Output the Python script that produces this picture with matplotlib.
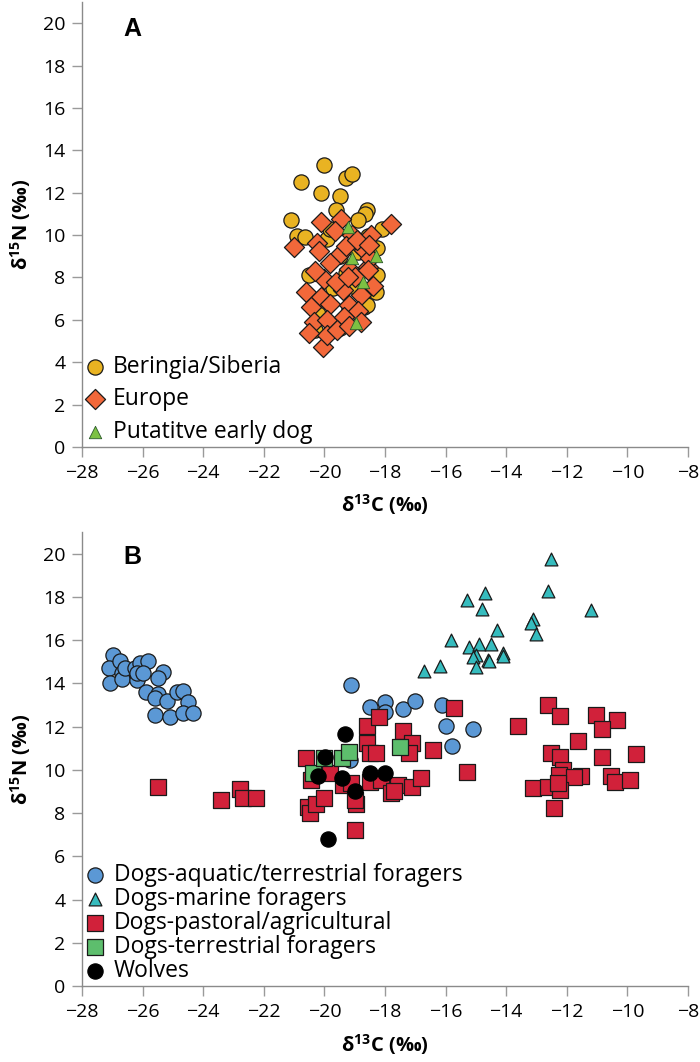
import matplotlib
matplotlib.use("Agg")
import matplotlib.pyplot as plt

plt.rcParams['font.family'] = ['Open Sans', 'DejaVu Sans']
plt.rcParams['mathtext.fontset'] = 'custom'
plt.rcParams['mathtext.rm'] = 'Open Sans:bold'
plt.rcParams['mathtext.default'] = 'rm'

# ---------------- Panel A data ----------------
ber_x = [-20.0, -20.76, -19.3, -19.1, -20.1, -19.5, -19.6, -18.6, -18.65, -21.1,
         -18.9, -18.1, -20.9, -20.65, -19.9, -18.55, -18.25, -20.5, -18.25, -18.3,
         -19.5, -19.7, -19.2, -20.2, -18.7, -19.8, -18.9, -19.3, -20.3, -19.5,
         -19.1, -18.6]
ber_y = [13.3, 12.5, 12.7, 12.9, 12.0, 11.85, 11.2, 11.2, 11.0, 10.7,
         10.7, 10.3, 9.95, 9.9, 9.8, 9.95, 9.4, 8.1, 8.1, 7.3,
         9.0, 7.5, 6.5, 6.3, 6.6, 10.3, 9.2, 8.2, 5.5, 5.6,
         7.6, 6.7]

eur_x = [-20.12, -19.46, -17.8, -21.0, -20.23, -20.17, -19.5, -18.9, -19.1, -19.3,
         -18.7, -18.57, -19.2, -19.8, -20.0, -20.6, -20.12, -19.4, -18.8, -19.0,
         -20.45, -19.8, -19.2, -18.9, -20.35, -19.9, -19.35, -18.8, -20.06, -19.9,
         -19.57, -19.2, -20.5, -18.5, -18.45, -19.65, -20.3, -19.6, -18.4, -18.93,
         -18.53, -19.23, -18.57]
eur_y = [10.63, 10.74, 10.52, 9.42, 9.64, 9.26, 9.1, 9.6, 10.0, 9.5,
         9.3, 8.5, 8.4, 8.7, 7.95, 7.3, 7.1, 7.4, 7.17, 8.0,
         6.6, 6.77, 6.7, 6.4, 5.9, 6.0, 6.14, 5.9, 4.72, 5.28,
         5.5, 5.7, 5.4, 8.9, 10.0, 10.2, 8.3, 7.8, 7.6, 9.77,
         9.53, 8.03, 8.35]

early_x = [-19.21, -19.09, -18.29, -18.72, -18.96]
early_y = [10.4, 8.93, 9.0, 7.77, 5.86]

# ---------------- Panel B data ----------------
aq_x = [-26.99, -27.1, -27.09, -26.76, -26.68, -26.68, -26.57, -26.24, -26.08, -25.81,
        -26.19, -26.19, -25.97, -25.31, -25.5, -25.89, -25.5, -25.59, -25.18, -24.87,
        -24.67, -24.49, -25.59, -25.09, -24.67, -24.35,
        -19.11, -18.51, -18.01, -18.01, -17.41, -17.0, -16.11, -16.0, -15.1, -15.8,
        -19.16]
aq_y = [15.33, 14.72, 14.02, 15.04, 14.46, 14.18, 14.69, 14.69, 14.92, 15.04,
        14.15, 14.46, 14.48, 14.53, 14.25, 13.6, 13.5, 13.3, 13.19, 13.6,
        13.65, 13.14, 12.53, 12.42, 12.64, 12.61,
        13.92, 12.91, 13.12, 12.68, 12.81, 13.19, 13.02, 12.03, 11.91, 11.11,
        10.45]

mar_x = [-15.3, -14.71, -14.81, -13.13, -13.18, -13.02, -14.31, -15.82, -15.24, -14.91,
         -14.51, -15.01, -15.08, -14.12, -14.09, -14.61, -14.55, -14.99, -16.2, -16.72,
         -12.51, -12.62, -11.2]
mar_y = [17.85, 18.18, 17.46, 16.97, 16.77, 16.26, 16.49, 16.0, 15.66, 15.81,
         15.8, 15.3, 15.2, 15.38, 15.27, 15.1, 15.05, 14.76, 14.79, 14.58,
         19.77, 18.28, 17.38]

pas_x = [-25.5, -23.4, -22.8, -22.7, -22.26,
         -20.61, -20.43, -20.54, -20.48, -20.26, -20.02, -19.82, -19.39, -19.11, -18.95,
         -19.0, -19.0, -18.6, -18.21, -18.6, -18.51, -18.29, -18.51, -18.12, -17.79,
         -17.58, -17.41, -17.1, -17.21, -17.11, -16.8, -16.4, -15.71, -15.3, -13.62,
         -13.11, -12.61, -12.22, -11.02, -10.33, -10.83, -11.62, -12.53, -12.22, -10.83,
         -9.72, -12.14, -12.25, -11.54, -11.76, -10.53, -10.42, -9.92, -12.61, -12.22,
         -12.42, -12.3, -17.7]
pas_y = [9.2, 8.6, 9.1, 8.7, 8.68,
         10.53, 9.52, 8.29, 8.01, 8.4, 8.71, 9.83, 9.29, 9.37, 8.41,
         8.6, 7.21, 12.03, 12.42, 11.22, 10.76, 10.76, 9.45, 9.52, 8.91,
         9.29, 11.8, 11.22, 10.76, 9.21, 9.6, 10.91, 12.84, 9.91, 12.02,
         9.14, 13.02, 12.5, 12.53, 12.3, 11.91, 11.33, 10.8, 10.6, 10.6,
         10.71, 9.99, 9.75, 9.71, 9.65, 9.71, 9.42, 9.52, 9.21, 9.06,
         8.22, 9.4, 9.0]

ter_x = [-20.37, -20.01, -19.41, -19.2, -17.5]
ter_y = [9.83, 10.53, 10.53, 10.83, 11.04]

wolf_x = [-19.31, -19.99, -20.21, -19.41, -19.0, -18.51, -18.01, -19.88]
wolf_y = [11.64, 10.6, 9.72, 9.63, 9.03, 9.83, 9.83, 6.8]

x_ticks = [-28, -26, -24, -22, -20, -18, -16, -14, -12, -10, -8]
y_ticks = [0, 2, 4, 6, 8, 10, 12, 14, 16, 18, 20]

fig = plt.figure(figsize=(7.0, 10.62), dpi=100)
axA = fig.add_axes([0.1171, 0.5791, 0.8657, 0.419])
axB = fig.add_axes([0.1171, 0.07156, 0.8657, 0.4275])

EC = '#1a1a1a'
LW = 0.9

axA.scatter(ber_x, ber_y, s=120, marker='o', c='#E9B322', edgecolors=EC, linewidths=LW,
            label='Beringia/Siberia', zorder=3)
axA.scatter(eur_x, eur_y, s=105, marker='D', c='#F2683A', edgecolors=EC, linewidths=LW,
            label='Europe', zorder=4)
axA.scatter(early_x, early_y, s=80, marker='^', c='#7CC143', edgecolors='#2a5a2a', linewidths=0.6,
            label='Putatitve early dog', zorder=5)

axB.scatter(aq_x, aq_y, s=120, marker='o', c='#5B98D5', edgecolors=EC, linewidths=LW,
            label='Dogs-aquatic/terrestrial foragers', zorder=3)
axB.scatter(mar_x, mar_y, s=85, marker='^', c='#36BCBE', edgecolors=EC, linewidths=LW,
            label='Dogs-marine foragers', zorder=3)
axB.scatter(pas_x, pas_y, s=120, marker='s', c='#D1213A', edgecolors=EC, linewidths=LW,
            label='Dogs-pastoral/agricultural', zorder=4)
axB.scatter(ter_x, ter_y, s=120, marker='s', c='#5DBE6D', edgecolors=EC, linewidths=LW,
            label='Dogs-terrestrial foragers', zorder=5)
axB.scatter(wolf_x, wolf_y, s=120, marker='o', c='black', edgecolors='black', linewidths=LW,
            label='Wolves', zorder=6)

ylabel = 'δ$^{15}$N (‰)'
xlabel = 'δ$^{13}$C (‰)'

for ax, letter in ((axA, 'A'), (axB, 'B')):
    ax.set_xlim(-28, -8)
    ax.set_ylim(0, 21.0)
    ax.set_xticks(x_ticks)
    ax.set_yticks(y_ticks)
    for sp in ('top', 'right'):
        ax.spines[sp].set_visible(False)
    for sp in ('left', 'bottom'):
        ax.spines[sp].set_color('#8a8a8a')
        ax.spines[sp].set_linewidth(1.0)
    ax.tick_params(direction='out', length=7, width=1.0, color='#9a9a9a',
                   labelsize=14, labelcolor='black', pad=5)
    ax.set_xlabel(xlabel, fontsize=14.5, fontweight='bold')
    ax.set_ylabel(ylabel, fontsize=14.5, fontweight='bold')
    ax.xaxis.set_label_coords(0.5, -0.13)
    ax.xaxis.label.set_va('center')
    ax.yaxis.set_label_coords(-0.102, 0.5)
    ax.yaxis.label.set_va('center')
    ax.text(0.084, 0.94 if letter == 'A' else 0.945, letter, transform=ax.transAxes,
            fontsize=18, fontweight='bold', family='Liberation Sans',
            ha='center', va='center')

axA.legend(loc='lower left', bbox_to_anchor=(-0.01, 0.0), frameon=False, fontsize=16.5,
           handletextpad=0.05, labelspacing=0.36, borderaxespad=0.0, handlelength=1.4,
           borderpad=0.15)
axB.legend(loc='lower left', bbox_to_anchor=(-0.01, 0.0), frameon=False, fontsize=16.5,
           handletextpad=0.1, labelspacing=0.0, borderaxespad=0.0, handlelength=1.4,
           borderpad=0.15)

fig.savefig('out.png', dpi=100)
